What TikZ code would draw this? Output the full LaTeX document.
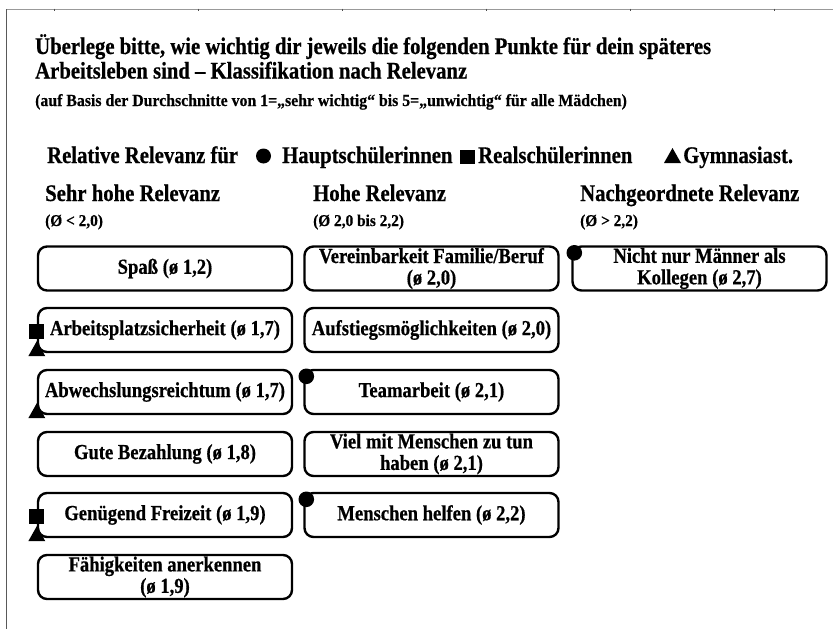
\documentclass[tikz,border=0pt]{standalone}
\usepackage{fontspec}
\setmainfont{Liberation Serif}
\newfontfamily\narrowfont[FakeStretch=0.87,FakeBold=0.6]{Liberation Serif}
\newfontfamily\semifont[FakeStretch=0.93,FakeBold=0.5]{Liberation Serif}
\begin{document}
\begin{tikzpicture}[x=1pt,y=-1pt,
  bigtxt/.style={anchor=base west,inner sep=0pt,font=\narrowfont\fontsize{23.8}{24}\selectfont\bfseries},
  subtxt/.style={anchor=base west,inner sep=0pt,font=\semifont\fontsize{17}{18}\selectfont\bfseries},
  rangetxt/.style={anchor=base west,inner sep=0pt,font=\semifont\fontsize{16.5}{18}\selectfont\bfseries},
  box/.style={draw,line width=2.4pt,rounded corners=9pt,minimum width=254pt,minimum height=44pt,
    align=center,inner sep=0pt,font=\narrowfont\fontsize{21.4}{21.5}\selectfont\bfseries},
  markfill/.style={fill=black}]
\useasboundingbox (0,0) rectangle (833,629);
% frame
\draw[line width=1.6pt,color=black!40] (6,9.6) -- (833,9.6);
\draw[line width=1.4pt,color=black!65] (6.5,9) -- (6.5,629);
\foreach \t in {54,198,342,486,630,774}{\draw[line width=0.8pt,color=black!70] (\t,8.5) -- (\t,10.5);}
% title
\node[bigtxt] (t1) at (35,54) {Überlege bitte, wie wichtig dir jeweils die folgenden Punkte für dein späteres};
\node[bigtxt] (t2) at (35,78.5) {Arbeitsleben sind – Klassifikation nach Relevanz};
\node[subtxt] (t3) at (35,106) {(auf Basis der Durchschnitte von 1=„sehr wichtig“ bis 5=„unwichtig“ für alle Mädchen)};
% legend
\node[bigtxt] (l0) at (47,163) {Relative Relevanz für};
\fill[markfill] (263.5,156) circle (7.5);
\node[bigtxt] (l1) at (282,163) {Hauptschülerinnen};
\fill[markfill] (460,149.5) rectangle (474.5,164);
\node[bigtxt] (l2) at (478,163) {Realschülerinnen};
\fill[markfill] (672.5,148) -- (681,163) -- (664,163) -- cycle;
\node[bigtxt] (l3) at (683,163) {Gymnasiast.};
% column headers
\node[bigtxt] (h1) at (45,201) {Sehr hohe Relevanz};
\node[rangetxt] (r1) at (45,226) {(Ø < 2,0)};
\node[bigtxt] (h2) at (313,201) {Hohe Relevanz};
\node[rangetxt] (r2) at (313,226) {(Ø 2,0 bis 2,2)};
\node[bigtxt] (h3) at (580,201) {Nachgeordnete Relevanz};
\node[rangetxt] (r3) at (580,226) {(Ø > 2,2)};
% column 1
\node[box] (a1) at (165,268.5) {Spaß (ø 1,2)};
\node[box] (a2) at (165,330) {Arbeitsplatzsicherheit (ø 1,7)};
\node[box] (a3) at (165,392) {Abwechslungsreichtum (ø 1,7)};
\node[box] (a4) at (165,454) {Gute Bezahlung (ø 1,8)};
\node[box] (a5) at (165,515) {Genügend Freizeit (ø 1,9)};
\node[box] (a6) at (165,577) {Fähigkeiten anerkennen\\(ø 1,9)};
% column 2
\node[box] (b1) at (431.5,268.5) {Vereinbarkeit Familie/Beruf\\(ø 2,0)};
\node[box] (b2) at (431.5,330) {Aufstiegsmöglichkeiten (ø 2,0)};
\node[box] (b3) at (431.5,392) {Teamarbeit (ø 2,1)};
\node[box] (b4) at (431.5,454) {Viel mit Menschen zu tun\\haben (ø 2,1)};
\node[box] (b5) at (431.5,515) {Menschen helfen (ø 2,2)};
% column 3
\node[box] (c1) at (699.5,268.5) {Nicht nur Männer als\\Kollegen (ø 2,7)};
% markers: circles (Hauptschülerinnen)
\foreach \b in {b3,b5,c1}{\fill[markfill] ([shift={(3,7.5)}]\b.north west) circle (7.8);}
% squares (Realschülerinnen)
\foreach \b in {a2,a5}{\fill[markfill] ([shift={(-7.5,-29)}]\b.south west) rectangle ([shift={(7.5,-14.5)}]\b.south west);}
% triangles (Gymnasiastinnen)
\foreach \b in {a2,a3,a5}{\fill[markfill] ([shift={(0,-12)}]\b.south west) -- ++(8.5,15) -- ++(-17,0) -- cycle;}
\end{tikzpicture}
\end{document}
